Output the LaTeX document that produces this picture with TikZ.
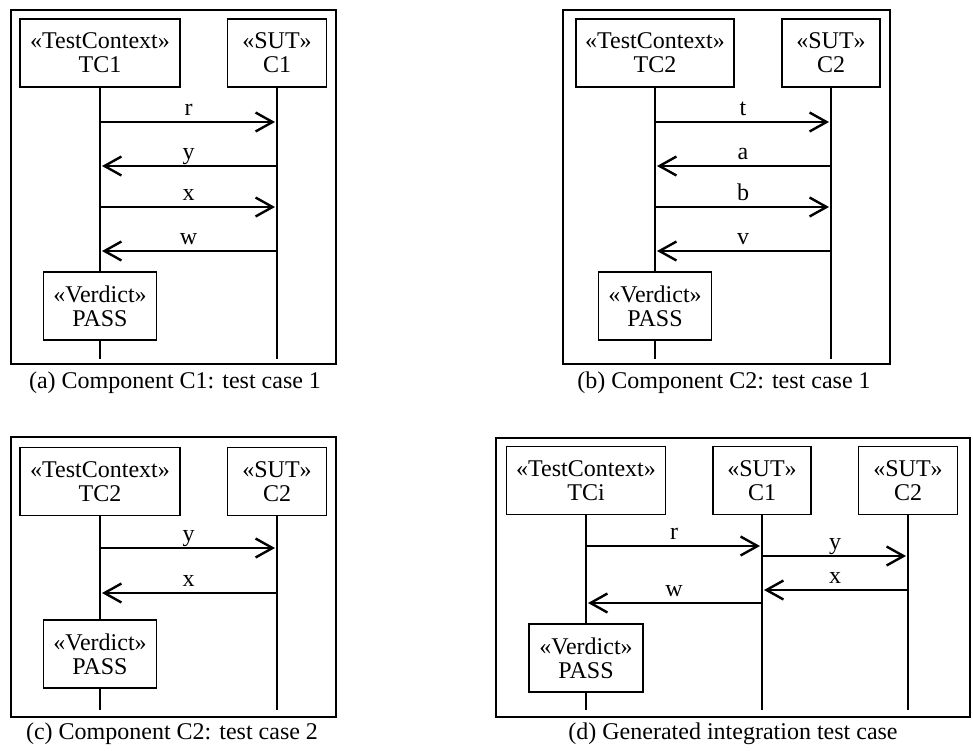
\documentclass[tikz,border=0pt]{standalone}
\usepackage{fontspec}
\setmainfont{Liberation Serif}
\usetikzlibrary{arrows.meta}

\begin{document}
\begin{tikzpicture}[x=1pt,y=-1pt,
  every node/.style={font=\fontsize{24}{24}\selectfont},
  frame/.style={draw, line width=1.8pt},
  obj/.style={draw, line width=1.3pt, align=center, inner sep=0pt, minimum height=68pt},
  life/.style={line width=1.3pt},
  msg/.style={line width=2.4pt, -{Straight Barb[length=17pt,width=19pt]}, shorten >=2pt},
  lbl/.style={anchor=base, yshift=7pt, inner sep=0pt},
  subcaption/.style={anchor=base, inner sep=0pt}]

\useasboundingbox (0,0) rectangle (973,750);

% ---------- (a) Component C1: test case 1 ----------
\draw[frame] (11,10) rectangle (336,364);
\node[obj, minimum width=160pt] (a-tc)  at (100,53)  {«TestContext»\\TC1};
\node[obj, minimum width=99pt]  (a-sut) at (277,53)  {«SUT»\\C1};
\node[obj, minimum width=113pt] (a-v)   at (100,306) {«Verdict»\\PASS};
\coordinate (a-tc-end)  at (100,359);
\coordinate (a-sut-end) at (277,359);
\draw[life] (a-tc) -- (a-v);
\draw[life] (a-v) -- (a-tc-end);
\draw[life] (a-sut) -- (a-sut-end);
\foreach \n/\y in {1/122,2/166,3/207,4/251}{
  \coordinate (a-l\n) at (100,\y);
  \coordinate (a-r\n) at (277,\y);
}
\draw[msg] (a-l1) -- node[lbl]{r} (a-r1);
\draw[msg] (a-r2) -- node[lbl]{y} (a-l2);
\draw[msg] (a-l3) -- node[lbl]{x} (a-r3);
\draw[msg] (a-r4) -- node[lbl]{w} (a-l4);
\node[subcaption] (a-cap) at (175,388) {(a) Component C1: test case 1};

% ---------- (b) Component C2: test case 1 ----------
\draw[frame] (563,10) rectangle (890,364);
\node[obj, minimum width=158pt] (b-tc)  at (655,53)  {«TestContext»\\TC2};
\node[obj, minimum width=98pt]  (b-sut) at (831,53)  {«SUT»\\C2};
\node[obj, minimum width=113pt] (b-v)   at (655,306) {«Verdict»\\PASS};
\coordinate (b-tc-end)  at (655,359);
\coordinate (b-sut-end) at (831,359);
\draw[life] (b-tc) -- (b-v);
\draw[life] (b-v) -- (b-tc-end);
\draw[life] (b-sut) -- (b-sut-end);
\foreach \n/\y in {1/122,2/166,3/207,4/251}{
  \coordinate (b-l\n) at (655,\y);
  \coordinate (b-r\n) at (831,\y);
}
\draw[msg] (b-l1) -- node[lbl]{t} (b-r1);
\draw[msg] (b-r2) -- node[lbl]{a} (b-l2);
\draw[msg] (b-l3) -- node[lbl]{b} (b-r3);
\draw[msg] (b-r4) -- node[lbl]{v} (b-l4);
\node[subcaption] (b-cap) at (724,388) {(b) Component C2: test case 1};

% ---------- (c) Component C2: test case 2 ----------
\draw[frame] (11,437) rectangle (336,717);
\node[obj, minimum width=160pt] (c-tc)  at (100,481.5) {«TestContext»\\TC2};
\node[obj, minimum width=99pt]  (c-sut) at (277,481.5) {«SUT»\\C2};
\node[obj, minimum width=113pt] (c-v)   at (100,654)   {«Verdict»\\PASS};
\coordinate (c-tc-end)  at (100,710);
\coordinate (c-sut-end) at (277,710);
\draw[life] (c-tc) -- (c-v);
\draw[life] (c-v) -- (c-tc-end);
\draw[life] (c-sut) -- (c-sut-end);
\foreach \n/\y in {1/548,2/593}{
  \coordinate (c-l\n) at (100,\y);
  \coordinate (c-r\n) at (277,\y);
}
\draw[msg] (c-l1) -- node[lbl]{y} (c-r1);
\draw[msg] (c-r2) -- node[lbl]{x} (c-l2);
\node[subcaption] (c-cap) at (172,739) {(c) Component C2: test case 2};

% ---------- (d) Generated integration test case ----------
\draw[frame] (496,438) rectangle (970,717);
\node[obj, minimum width=159pt] (d-tc)  at (586,480.5) {«TestContext»\\TCi};
\node[obj, minimum width=98pt]  (d-c1)  at (762,480.5) {«SUT»\\C1};
\node[obj, minimum width=99pt]  (d-c2)  at (908,480.5) {«SUT»\\C2};
\node[obj, minimum width=114pt] (d-v)   at (586,658)   {«Verdict»\\PASS};
\coordinate (d-tc-end) at (586,710);
\coordinate (d-c1-end) at (762,710);
\coordinate (d-c2-end) at (908,710);
\draw[life] (d-tc) -- (d-v);
\draw[life] (d-v) -- (d-tc-end);
\draw[life] (d-c1) -- (d-c1-end);
\draw[life] (d-c2) -- (d-c2-end);
\coordinate (d-r-s) at (586,546); \coordinate (d-r-e) at (762,546);
\coordinate (d-y-s) at (762,556); \coordinate (d-y-e) at (908,556);
\coordinate (d-x-s) at (908,590); \coordinate (d-x-e) at (762,590);
\coordinate (d-w-s) at (762,603); \coordinate (d-w-e) at (586,603);
\draw[msg] (d-r-s) -- node[lbl]{r} (d-r-e);
\draw[msg] (d-y-s) -- node[lbl]{y} (d-y-e);
\draw[msg] (d-x-s) -- node[lbl]{x} (d-x-e);
\draw[msg] (d-w-s) -- node[lbl]{w} (d-w-e);
\node[subcaption] (d-cap) at (733,739) {(d) Generated integration test case};

\end{tikzpicture}
\end{document}
